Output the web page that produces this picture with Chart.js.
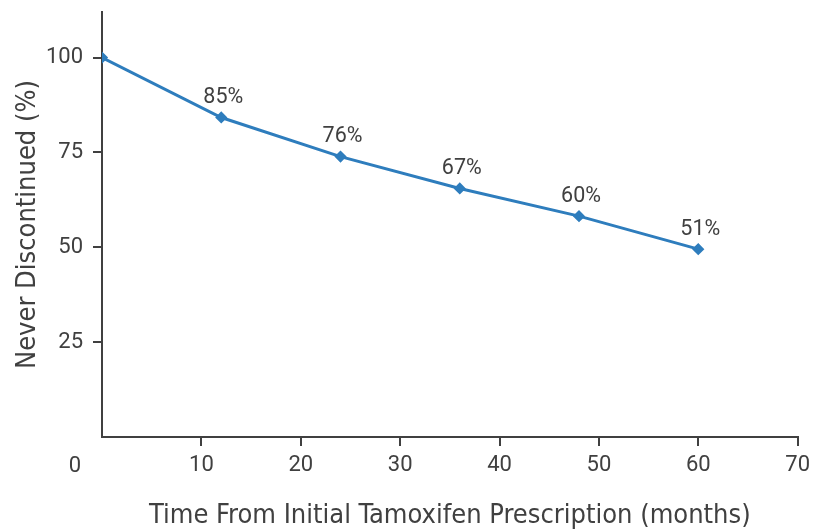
<!DOCTYPE html>
<html>
<head>
<meta charset="utf-8">
<script src="https://cdn.jsdelivr.net/npm/chart.js@4"></script>
<style>
  html, body { margin: 0; padding: 0; background: #fff; }
  #wrap { width: 816px; height: 532px; }
</style>
</head>
<body>
<div id="wrap"><canvas id="chart" width="816" height="532"></canvas></div>
<script>
// data
const months = [0, 12, 24, 36, 48, 60];
const neverDiscontinued = [100, 84.2, 73.9, 65.5, 58.2, 49.5];
const pointLabels = ["", "85%", "76%", "67%", "60%", "51%"];
const xTicks = [10, 20, 30, 40, 50, 60, 70];
const yTicks = [25, 50, 75, 100];

const ink = "#404040";
const blue = "#2e7dbd";
const tickFont = { family: "Roboto, 'Liberation Sans', sans-serif", size: 22 };
const labelFont = { family: "Roboto, 'Liberation Sans', sans-serif", size: 21.5 };
const titleFont = { family: "'DejaVu Sans Condensed', 'Liberation Sans Narrow', sans-serif", size: 27 };

// percent labels over each point + the lone "0" at the corner
const labelPlugin = {
  id: "pointLabels",
  afterDatasetsDraw(chart) {
    const ctx = chart.ctx;
    const meta = chart.getDatasetMeta(0);
    ctx.save();
    ctx.fillStyle = ink;
    ctx.textAlign = "center";
    ctx.textBaseline = "middle";
    ctx.font = `${labelFont.size}px ${labelFont.family}`;
    meta.data.forEach((pt, i) => {
      if (pointLabels[i]) ctx.fillText(pointLabels[i], pt.x + 2, pt.y - 20);
    });
    const xs = chart.scales.x;
    ctx.font = `${tickFont.size}px ${tickFont.family}`;
    ctx.fillText("0", xs.left - 27, xs.top + 29);
    ctx.restore();
  }
};

new Chart(document.getElementById("chart"), {
  type: "line",
  data: {
    datasets: [{
      data: months.map((m, i) => ({ x: m, y: neverDiscontinued[i] })),
      borderColor: blue,
      backgroundColor: blue,
      borderWidth: 3,
      pointStyle: "rectRot",
      pointRadius: 4,
      tension: 0,
    }],
  },
  options: {
    responsive: false,
    animation: false,
    layout: { padding: { top: 12, right: 18, left: 0, bottom: 0 } },
    plugins: { legend: { display: false }, tooltip: { enabled: false } },
    scales: {
      x: {
        type: "linear",
        min: 0,
        max: 70,
        afterBuildTicks: s => { s.ticks = xTicks.map(v => ({ value: v })); },
        afterFit: s => { s.height = 95; },
        border: { display: true, color: ink, width: 2 },
        grid: { drawOnChartArea: false, drawTicks: true, tickLength: 9, color: ink, lineWidth: 2 },
        ticks: { color: ink, font: tickFont, padding: 6, maxRotation: 0 },
        title: {
          display: true,
          text: "Time From Initial Tamoxifen Prescription (months)",
          color: ink,
          font: titleFont,
          padding: { top: 0, bottom: 0 },
        },
      },
      y: {
        min: 0,
        max: 112,
        afterBuildTicks: s => { s.ticks = yTicks.map(v => ({ value: v })); },
        afterFit: s => { s.width = 102; s.paddingTop = 0; s.paddingBottom = 0; },
        border: { display: true, color: ink, width: 2 },
        grid: { drawOnChartArea: false, drawTicks: true, tickLength: 9, color: ink, lineWidth: 2 },
        ticks: { color: ink, font: tickFont, padding: 10 },
        title: {
          display: true,
          text: "Never Discontinued (%)",
          color: ink,
          font: titleFont,
          padding: { top: 12, bottom: 0 },
        },
      },
    },
  },
  plugins: [labelPlugin],
});
</script>
</body>
</html>
